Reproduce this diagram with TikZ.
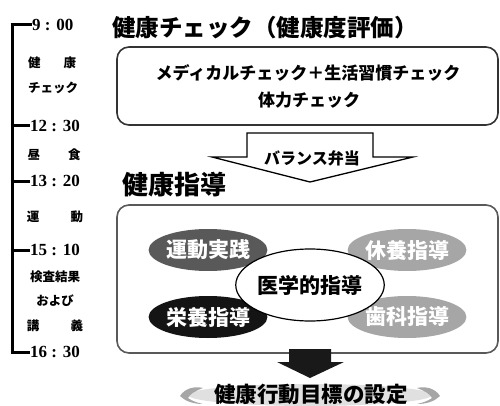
\documentclass[tikz,border=0pt]{standalone}
\usepackage{fontspec}
\setmainfont{Liberation Serif}
\newfontfamily\jp{Noto Sans CJK JP}
\usetikzlibrary{shapes.geometric}
\tikzset{
  x=1pt, y=-1pt,
  timetxt/.style={anchor=west, inner sep=0pt, font=\fontsize{17}{17}\selectfont\bfseries},
  tick/.style={line width=3pt},
  lbl/.style={inner sep=0pt, font=\jp\bfseries\fontsize{12.5}{13}\selectfont},
  head/.style={anchor=west, inner sep=0pt, font=\jp\fontsize{23.5}{24}\selectfont\bfseries},
  boxtxt/.style={inner sep=0pt, font=\jp\bfseries\fontsize{17}{17}\selectfont},
  frame/.style={draw=black!80, line width=1.6pt, rounded corners=12pt},
  oval/.style={ellipse, minimum width=99pt, minimum height=42pt, inner sep=0pt, text=white, font=\jp\bfseries\fontsize{21}{21}\selectfont},
}
\begin{document}
\begin{tikzpicture}
\useasboundingbox (0,0) rectangle (500,406);
% timeline
\coordinate (t0) at (12,25);
\coordinate (t5) at (12,352);
\draw[tick] (t0) -- (t5);
\node[timetxt] (h1) at (32,25) {9 : 00};
\node[timetxt] (h2) at (30,126) {12 : 30};
\node[timetxt] (h3) at (30,181) {13 : 20};
\node[timetxt] (h4) at (30,250) {15 : 10};
\node[timetxt] (h5) at (30,352) {16 : 30};
\foreach \n/\y in {h1/25,h2/126,h3/181,h4/250,h5/352}{
  \draw[tick] (10.5,\y) -- (\n.west);
}
\node[lbl] (l1) at (52,63) {\makebox[48pt][s]{健\hfill 康}};
\node[lbl] (l2) at (53,88) {チェック};
\node[lbl] (l3) at (54,155) {\makebox[53pt][s]{昼\hfill 食}};
\node[lbl] (l4) at (55,217) {\makebox[56pt][s]{運\hfill 動}};
\node[lbl] (l5) at (55,277) {検査結果};
\node[lbl] (l6) at (55,301) {および};
\node[lbl] (l7) at (55,326) {\makebox[56pt][s]{講\hfill 義}};
% health check
\node[head] (title1) at (112,28) {健康チェック（健康度評価）};
\draw[frame] (117,47) rectangle (498,125);
\node[boxtxt] (c1) at (308,73) {メディカルチェック＋生活習慣チェック};
\node[boxtxt] (c2) at (309,100) {体力チェック};
% block arrow
\draw[line width=1.3pt, line join=miter] (247,133) -- (373,133) -- (373,157) -- (413,157) -- (310,182) -- (212,157) -- (247,157) -- cycle;
\node[boxtxt, fill=white, inner sep=2pt, font=\jp\bfseries\fontsize{16}{16}\selectfont] (bal) at (312,158) {バランス弁当};
% health guidance
\node[head, font=\jp\fontsize{26}{26}\selectfont\bfseries] (title2) at (122,185) {健康指導};
\draw[frame, draw=black!65] (117,205) rectangle (498,353);
\node[oval, fill=black!65] (e1) at (208,250) {運動実践};
\node[oval, fill=black!35, minimum width=108pt] (e2) at (407,250) {休養指導};
\node[oval, fill=black!92] (e3) at (208,317) {栄養指導};
\node[oval, fill=black!35, minimum width=108pt] (e4) at (407,317) {歯科指導};
\node[ellipse, draw, line width=1.2pt, fill=white, minimum width=127pt, minimum height=72pt, inner sep=0pt, font=\jp\bfseries\fontsize{21}{21}\selectfont] (med) at (310,285) {医学的指導};
% down arrow
\fill[black!90] (289,349) -- (331,349) -- (331,362) -- (344,362) -- (310,378) -- (277,362) -- (289,362) -- cycle;
% goal banner
\fill[black!12] (310,395) ellipse (122pt and 11pt);
\fill[black!35] (180,396) .. controls (185,388) and (195,386) .. (203,388) .. controls (195,391) and (190,394) .. (188,398) .. controls (192,401) and (198,403) .. (203,404) .. controls (193,404) and (185,401) .. (180,396) -- cycle;
\fill[black!35] (440,396) .. controls (435,388) and (425,386) .. (417,388) .. controls (425,391) and (430,394) .. (432,398) .. controls (428,401) and (422,403) .. (417,404) .. controls (427,404) and (435,401) .. (440,396) -- cycle;
\node[inner sep=0pt, font=\jp\bfseries\fontsize{21.5}{22}\selectfont] (goal) at (311,394) {健康行動目標の設定};
\end{tikzpicture}
\end{document}
